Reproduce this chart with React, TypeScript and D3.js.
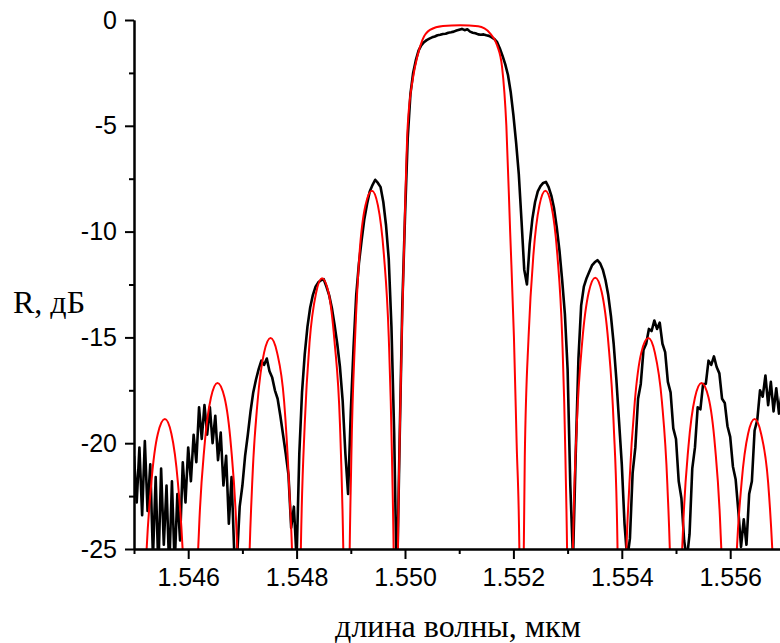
import React, { useEffect, useRef } from "react";
import * as d3 from "d3";

// measured reflection spectrum, sampled with a fixed wavelength step
const measStart = 1.545;
const measStep = 0.00005;
const measDb = [
  -20.6, -22.8, -20.2, -23.4, -19.9, -23.2, -21.0, -25.4, -21.6, -26.0,
  -21.2, -24.8, -22.0, -26.0, -21.8, -25.8, -22.4, -24.6, -20.9, -22.8,
  -20.2, -21.8, -19.6, -20.9, -18.3, -19.8, -18.2, -19.6, -18.3, -20.0,
  -18.7, -20.8, -19.5, -22.0, -20.6, -23.8, -21.6, -25.2, -25.5, -23.0,
  -22.0, -20.6, -19.6, -18.5, -17.6, -17.0, -16.5, -16.1, -16.3, -16.0,
  -16.6, -16.9, -17.5, -17.9, -18.7, -19.6, -20.5, -21.5, -24.0, -23.0,
  -25.5, -20.5, -17.6, -15.8, -14.5, -13.6, -13.0, -12.6, -12.4, -12.3,
  -12.25, -12.6, -13.0, -13.6, -14.4, -15.3, -16.4, -18.0, -20.5, -22.4,
  -18.5, -15.5, -13.0, -11.5, -10.4, -9.4, -8.7, -8.1, -7.8, -7.55,
  -7.7, -7.9, -8.6, -9.7, -11.3, -14.5, -19.5, -27.0, -20.0, -13.5,
  -9.3, -5.6, -3.5, -2.5, -1.9, -1.45, -1.2, -1.05, -0.95, -0.88,
  -0.82, -0.78, -0.72, -0.7, -0.66, -0.65, -0.6, -0.58, -0.55, -0.5,
  -0.46, -0.42, -0.48, -0.44, -0.55, -0.6, -0.63, -0.68, -0.7, -0.68,
  -0.72, -0.75, -0.82, -0.9, -1.05, -1.35, -1.7, -2.1, -2.6, -3.4,
  -4.5, -5.8, -7.3, -9.5, -11.8, -12.5, -10.6, -9.4, -8.6, -8.1,
  -7.85, -7.7, -7.65, -7.9, -8.3, -8.9, -9.8, -10.9, -12.3, -13.9,
  -16.5, -22.0, -25.5, -20.5, -16.0, -13.5, -12.6, -12.2, -11.9, -11.6,
  -11.45, -11.35, -11.5, -11.8, -12.3, -13.0, -14.0, -15.3, -17.0, -19.0,
  -21.0, -23.8, -25.5, -24.5, -21.4, -20.2, -17.9, -17.2, -15.6, -15.3,
  -14.6, -14.7, -14.2, -14.6, -14.3, -15.3, -15.7, -17.1, -17.6, -19.3,
  -19.8, -21.8, -22.6, -24.6, -25.5, -24.3, -21.2, -20.2, -18.3, -18.4,
  -17.2, -17.2, -16.1, -16.3, -15.9, -16.4, -16.7, -17.9, -18.1, -19.2,
  -19.7, -21.1, -21.7, -23.2, -24.9, -23.6, -24.8, -22.4, -21.8, -19.4,
  -18.9, -17.5, -17.8, -16.8, -18.2, -17.1, -18.5, -17.4, -18.6, -17.6,
  -18.3,
];

// calculated spectrum (red)
const modelWl = [
  1.545, 1.54508, 1.54515, 1.54522, 1.54532, 1.54544, 1.54557, 1.54569, 1.54581, 1.54591, 1.54598,
  1.54606, 1.54613, 1.5462, 1.5463, 1.54642, 1.54654, 1.54667, 1.54679, 1.54689, 1.54696,
  1.54703, 1.54711, 1.54718, 1.54728, 1.5474, 1.54752, 1.54764, 1.54777, 1.54786, 1.54794,
  1.54801, 1.54803, 1.54808, 1.54815, 1.54824, 1.54836, 1.54847, 1.54859, 1.5487, 1.5488, 1.54886, 1.54891,
  1.54893, 1.54896, 1.54901, 1.54908, 1.54916, 1.54927, 1.54939, 1.5495, 1.54961, 1.5497, 1.54976, 1.54981,
  1.54982, 1.54985, 1.54987, 1.5499, 1.54994, 1.54999, 1.55005, 1.55015, 1.55023, 1.55032, 1.55046,
  1.5507, 1.55102, 1.55135, 1.55157, 1.5517, 1.55179, 1.55187, 1.55194, 1.55201, 1.55206, 1.55211, 1.55213,
  1.55214, 1.55217, 1.55221, 1.55228, 1.55237, 1.55248, 1.55259, 1.5527, 1.55281, 1.5529, 1.55296, 1.55301,
  1.55303, 1.55305, 1.5531, 1.55317, 1.55327, 1.55339, 1.55351, 1.55363, 1.55375, 1.55385, 1.55392, 1.55396,
  1.55399, 1.55406, 1.55414, 1.55424, 1.55436, 1.55449, 1.55461, 1.55474, 1.55484, 1.55491,
  1.55499, 1.55506, 1.55513, 1.55523, 1.55535, 1.55547, 1.5556, 1.55572, 1.55582, 1.55589,
  1.55596, 1.55604, 1.55611, 1.55621, 1.55633, 1.55645, 1.55657, 1.5567, 1.55679, 1.55687,
  1.55694, 1.557,
];
const modelDb = [
  -32, -45, -31.5, -25.76, -21.86, -19.55, -18.86, -19.55, -21.86, -25.76, -31.5,
  -45, -29.75, -24.05, -20.15, -17.84, -17.15, -17.84, -20.15, -24.05, -29.75,
  -45, -27.63, -21.93, -18.03, -15.72, -15.03, -15.72, -18.03, -21.93, -27.63,
  -45, -34.3, -24.8, -19.1, -15.2, -12.89, -12.2, -12.89, -15.2, -19.1, -24.8, -34.3,
  -45, -30.17, -20.67, -14.97, -11.07, -8.76, -8.07, -8.76, -11.07, -14.97, -20.67, -30.17,
  -45, -32, -25, -20, -15, -10, -5, -2.7, -1.7, -0.95, -0.47,
  -0.28, -0.25, -0.3, -0.63, -1.2, -2.2, -5, -10, -15, -20, -25, -32,
  -45, -30.17, -20.67, -14.97, -11.07, -8.76, -8.07, -8.76, -11.07, -14.97, -20.67, -30.17,
  -45, -34.3, -24.8, -19.1, -15.2, -12.87, -12.18, -12.87, -15.2, -19.1, -24.8, -34.3,
  -45, -27.63, -21.93, -18.03, -15.72, -15.03, -15.72, -18.03, -21.93, -27.63,
  -45, -29.75, -24.05, -20.15, -17.84, -17.15, -17.84, -20.15, -24.05, -29.75,
  -45, -31.5, -25.76, -21.86, -19.55, -18.86, -19.55, -21.86, -25.76, -31.5,
  -45, -32,
];

const yTicks = [0, -5, -10, -15, -20, -25];
const yMinor = [-2.5, -7.5, -12.5, -17.5, -22.5];
const xTicks = [1.546, 1.548, 1.55, 1.552, 1.554, 1.556];
const xMinor = [1.545, 1.547, 1.549, 1.551, 1.553, 1.555, 1.557];

const W = 780, H = 643;
const left = 134, top = 20, bottom = 549, right = 784.4;

export default function App() {
  const ref = useRef<SVGSVGElement>(null);

  useEffect(() => {
    const svg = d3.select(ref.current);
    svg.selectAll("*").remove();

    const x = d3.scaleLinear().domain([1.545, 1.557]).range([left, right]);
    const y = d3.scaleLinear().domain([-25, 0]).range([bottom, top]);

    svg.append("defs").append("clipPath").attr("id", "plot")
      .append("rect")
      .attr("x", left).attr("y", 0)
      .attr("width", right - left).attr("height", bottom);

    const meas = measDb.map((v, i) => ({ wl: measStart + i * measStep, db: v }));
    const model = modelWl.map((w, i) => ({ wl: w, db: modelDb[i] }));

    const plot = svg.append("g").attr("clip-path", "url(#plot)");

    plot.append("path")
      .datum(meas)
      .attr("fill", "none")
      .attr("stroke", "#000")
      .attr("stroke-width", 2.6)
      .attr("stroke-linejoin", "round")
      .attr("d", d3.line<any>().x(d => x(d.wl)).y(d => y(d.db)));

    plot.append("path")
      .datum(model)
      .attr("fill", "none")
      .attr("stroke", "#ff0000")
      .attr("stroke-width", 2)
      .attr("d", d3.line<any>().x(d => x(d.wl)).y(d => y(d.db)).curve(d3.curveMonotoneX));

    const styleAxis = (g) => {
      g.select(".domain").attr("stroke-width", 2);
      g.selectAll(".tick line").attr("stroke-width", 2);
      g.selectAll(".tick text")
        .attr("font-family", "Liberation Sans, Arial, sans-serif")
        .attr("font-size", 25)
        .attr("fill", "#000");
    };

    // x axis
    svg.append("g")
      .attr("transform", `translate(0,${bottom})`)
      .call(d3.axisBottom(x).tickValues(xMinor).tickSize(5).tickSizeOuter(0).tickFormat(() => ""))
      .call(styleAxis);
    svg.append("g")
      .attr("transform", `translate(0,${bottom})`)
      .call(d3.axisBottom(x).tickValues(xTicks).tickSize(10).tickSizeOuter(0).tickPadding(9)
        .tickFormat(d3.format(".3f")))
      .call(styleAxis);

    // y axis
    svg.append("g")
      .attr("transform", `translate(${left},0)`)
      .call(d3.axisLeft(y).tickValues(yMinor).tickSize(5).tickSizeOuter(0).tickFormat(() => ""))
      .call(styleAxis);
    svg.append("g")
      .attr("transform", `translate(${left},0)`)
      .call(d3.axisLeft(y).tickValues(yTicks).tickSize(9).tickSizeOuter(0).tickPadding(8)
        .tickFormat(d => String(d)))
      .call(styleAxis);

    svg.append("text")
      .attr("x", 13).attr("y", 313)
      .attr("font-family", "Liberation Serif, Times New Roman, serif")
      .attr("font-size", 32)
      .text("R, дБ");

    svg.append("text")
      .attr("x", 458).attr("y", 637)
      .attr("text-anchor", "middle")
      .attr("font-family", "Liberation Serif, Times New Roman, serif")
      .attr("font-size", 32)
      .text("длина волны, мкм");
  }, []);

  return (
    <svg ref={ref} width={W} height={H}
      style={{ position: "absolute", left: 0, top: 0, background: "#fff" }} />
  );
}
